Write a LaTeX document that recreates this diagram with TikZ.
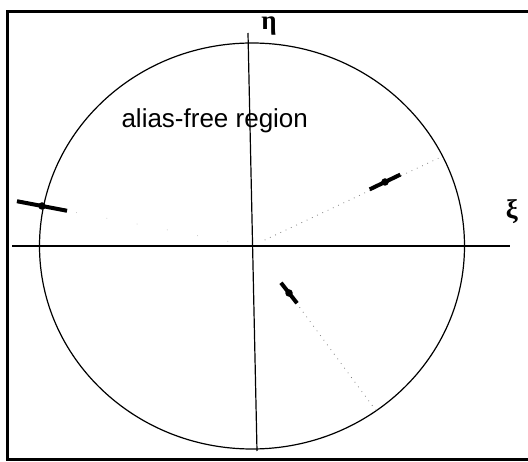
\documentclass[tikz,border=0pt]{standalone}
\usepackage{fontspec}
\setmainfont{Liberation Sans}
\newfontfamily\greekfont{Liberation Serif}
\usetikzlibrary{calc}

\begin{document}
\begin{tikzpicture}[x=1pt,y=-1pt,
  axis/.style={line width=1.2pt},
  ray/.style={gray,line width=0.8pt,dash pattern=on 0.8pt off 5pt},
  bar/.style={line width=4pt},
  dot/.style={circle,fill,inner sep=0pt,minimum size=7.5pt},
  greek/.style={font=\greekfont\bfseries\fontsize{27}{30}\selectfont}]
  \useasboundingbox (0,0) rectangle (528,462);
  \draw[line width=3pt] (528,12) -- (7,12) -- (7,460) -- (528,460);
  \coordinate (O) at (252,246);
  \draw[axis] (O) ellipse [x radius=212.5pt, y radius=203pt];
  \coordinate (xl) at (12,246);
  \coordinate (xr) at (510,246);
  \coordinate (yt) at (248,33);
  \coordinate (yb) at (257,451);
  \draw[axis] (xl) -- (xr);
  \draw[axis] (yt) -- (yb);
  \node[greek] (xi) at (512,212) {ξ};
  \node[greek] (eta) at (269,26) {η};
  \node[anchor=base west,font=\fontsize{26}{30}\selectfont] (lab) at (118,128) {alias-free region};
  \coordinate (Be) at (441,157);
  \coordinate (Ce) at (377,412);
  \node[dot] (a) at (42,206) {};
  \node[dot] (b) at (385,182) {};
  \node[dot] (c) at (289,293) {};
  \draw[ray,gray!40,dash pattern=on 0.8pt off 30pt] (a) -- (O);
  \draw[ray,shorten <=14pt] (O) -- (Be);
  \draw[ray,shorten <=8pt] (c) -- (Ce);
  \draw[bar] ($(a)!25.5pt!(O)$) -- ($(a)!-25.5pt!(O)$);
  \draw[bar] ($(b)!17pt!(O)$) -- ($(b)!-17pt!(O)$);
  \draw[bar] ($(c)!13pt!(O)$) -- ($(c)!-13pt!(O)$);
\end{tikzpicture}
\end{document}
